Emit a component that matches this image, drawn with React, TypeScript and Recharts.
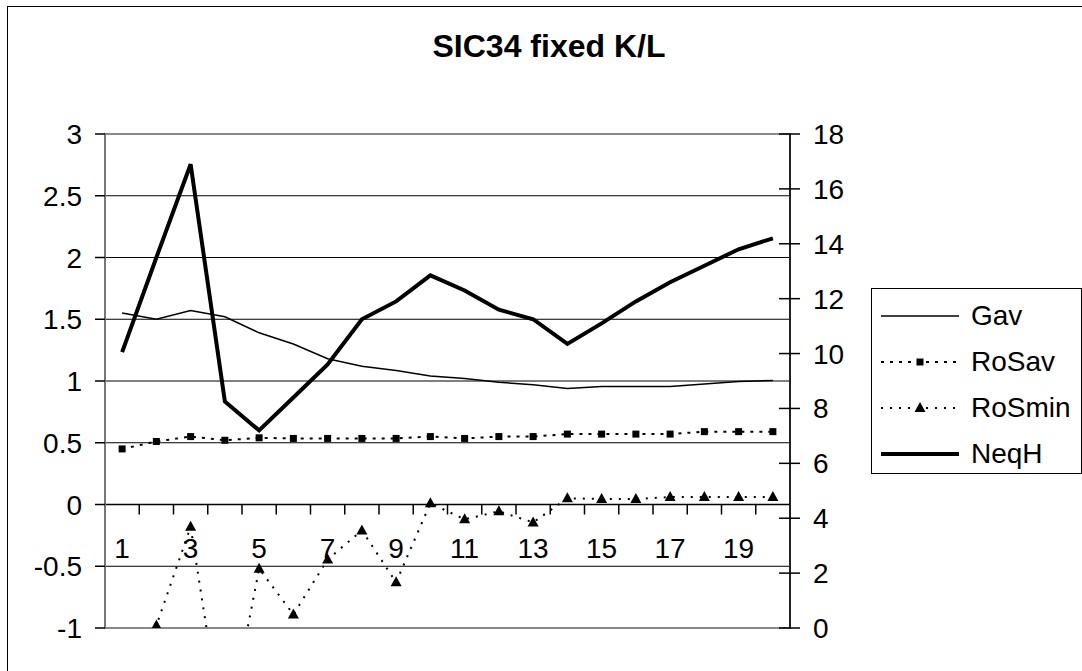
import React from 'react';
import {
  LineChart,
  Line,
  XAxis,
  YAxis,
  CartesianGrid,
  Legend,
  ReferenceLine,
  ReferenceArea,
} from 'recharts';

// values
const categories = [1, 2, 3, 4, 5, 6, 7, 8, 9, 10, 11, 12, 13, 14, 15, 16, 17, 18, 19, 20];
const gav = [1.55, 1.5, 1.57, 1.52, 1.39, 1.3, 1.18, 1.12, 1.085, 1.04, 1.02, 0.99, 0.97, 0.94, 0.955, 0.955, 0.955, 0.975, 0.995, 1.005];
const roSav = [0.45, 0.51, 0.55, 0.52, 0.54, 0.535, 0.535, 0.535, 0.535, 0.55, 0.535, 0.55, 0.55, 0.57, 0.57, 0.57, 0.57, 0.59, 0.59, 0.59];
const roSmin = [-1.6, -0.98, -0.18, -1.95, -0.52, -0.89, -0.445, -0.21, -0.63, 0.01, -0.12, -0.055, -0.145, 0.05, 0.045, 0.045, 0.06, 0.06, 0.06, 0.06];
const neqH = [10.05, 13.5, 16.9, 8.25, 7.2, 8.4, 9.6, 11.25, 11.9, 12.85, 12.3, 11.6, 11.25, 10.35, 11.1, 11.9, 12.6, 13.2, 13.8, 14.2];

const leftTicks = [-1, -0.5, 0, 0.5, 1, 1.5, 2, 2.5, 3];
const rightTicks = [0, 2, 4, 6, 8, 10, 12, 14, 16, 18];
const xLabels = [1, 3, 5, 7, 9, 11, 13, 15, 17, 19];
const seriesNames = ['Gav', 'RoSav', 'RoSmin', 'NeqH'];

const data = categories.map((c, i) => ({
  x: c,
  Gav: gav[i],
  RoSav: roSav[i],
  RoSmin: roSmin[i],
  NeqH: neqH[i],
}));

// labels at the categories, small marks between them
const xTicks = categories.flatMap((c, i) => (i < categories.length - 1 ? [c, c + 0.5] : [c]));

const W = 1082;
const H = 671;
const MARGIN = { top: 134, right: 192, bottom: 0, left: 8 };
const X_AXIS_H = 43;
const LEFT_DOMAIN: [number, number] = [-1, 3];
const PLOT_H = H - MARGIN.top - MARGIN.bottom - X_AXIS_H;
// category axis crosses the value axis at 0
const ZERO_SHIFT = (PLOT_H * (0 - LEFT_DOMAIN[0])) / (LEFT_DOMAIN[1] - LEFT_DOMAIN[0]);

const FONT = '"Liberation Sans", Arial, sans-serif';

const XTick = (props: any) => {
  const { x, y, payload } = props;
  const v = payload.value;
  const y0 = y - ZERO_SHIFT;
  if (!Number.isInteger(v)) {
    return <line x1={x} x2={x} y1={y0} y2={y0 + 10} stroke="#000" strokeWidth={1.5} />;
  }
  if (!xLabels.includes(v)) return <g />;
  return (
    <text x={x} y={y0 + 53} textAnchor="middle" fontSize={28} fontFamily={FONT} fill="#000">
      {v}
    </text>
  );
};

const LeftTick = (props: any) => {
  const { x, y, payload } = props;
  return (
    <g>
      <line x1={x - 10} x2={x} y1={y} y2={y} stroke="#000" strokeWidth={1.5} />
      <text x={x - 23} y={y + 10} textAnchor="end" fontSize={28} fontFamily={FONT} fill="#000">
        {payload.value}
      </text>
    </g>
  );
};

const RightTick = (props: any) => {
  const { x, y, payload } = props;
  return (
    <g>
      <line x1={x - 11} x2={x + 10} y1={y} y2={y} stroke="#000" strokeWidth={1.5} />
      <text x={x + 23} y={y + 10} textAnchor="start" fontSize={28} fontFamily={FONT} fill="#000">
        {payload.value}
      </text>
    </g>
  );
};

const squareDot = (props: any) => {
  const { cx, cy, index } = props;
  return <rect key={`sq-${index}`} x={cx - 3.5} y={cy - 3.5} width={7} height={7} fill="#000" />;
};

const triangleDot = (props: any) => {
  const { cx, cy, index } = props;
  return (
    <polygon
      key={`tr-${index}`}
      points={`${cx},${cy - 6} ${cx + 5.5},${cy + 4} ${cx - 5.5},${cy + 4}`}
      fill="#000"
    />
  );
};

const sample = (name: string) => {
  if (name === 'Gav') return <line x1={0} x2={78} y1={10} y2={10} stroke="#000" strokeWidth={1.5} />;
  if (name === 'NeqH') return <line x1={0} x2={78} y1={10} y2={10} stroke="#000" strokeWidth={4} />;
  const square = name === 'RoSav';
  return (
    <g>
      <line x1={0} x2={78} y1={10} y2={10} stroke="#000" strokeWidth={2} strokeDasharray={square ? '3 6' : '2 7'} />
      {square ? (
        <rect x={35.5} y={6.5} width={7} height={7} fill="#000" />
      ) : (
        <polygon points="39,4 44.5,14 33.5,14" fill="#000" />
      )}
    </g>
  );
};

const renderLegend = () => (
  <div
    style={{
      width: 211,
      height: 186,
      boxSizing: 'border-box',
      border: '1.5px solid #000',
      background: '#fff',
      paddingTop: 4,
      fontFamily: FONT,
      fontSize: 28,
    }}
  >
    {seriesNames.map((name) => (
      <div key={name} style={{ display: 'flex', alignItems: 'center', height: 46, paddingLeft: 9 }}>
        <svg width={78} height={20}>{sample(name)}</svg>
        <span style={{ marginLeft: 12, lineHeight: '46px' }}>{name}</span>
      </div>
    ))}
  </div>
);

export default function App() {
  return (
    <div
      style={{
        position: 'absolute',
        left: 0,
        top: 0,
        width: W,
        height: H,
        overflow: 'hidden',
        background: '#fff',
        fontFamily: FONT,
      }}
    >
      <div
        style={{
          position: 'absolute',
          left: 7,
          top: 6,
          width: W + 20,
          height: H + 20,
          borderLeft: '1.5px solid #000',
          borderTop: '1.5px solid #000',
        }}
      />
      <div
        style={{
          position: 'absolute',
          left: 0,
          top: 26,
          width: 1098,
          textAlign: 'center',
          fontSize: 32,
          fontWeight: 'bold',
          lineHeight: '40px',
        }}
      >
        SIC34 fixed K/L
      </div>
      <div style={{ position: 'absolute', left: 0, top: 0 }}>
        <LineChart width={W} height={H} data={data} margin={MARGIN}>
          <XAxis
            dataKey="x"
            type="number"
            domain={[0.5, 20.5]}
            ticks={xTicks}
            interval={0}
            height={X_AXIS_H}
            axisLine={false}
            tickLine={false}
            tickSize={0}
            tickMargin={0}
            tick={XTick}
          />
          <YAxis
            yAxisId="left"
            domain={LEFT_DOMAIN}
            ticks={leftTicks}
            interval={0}
            allowDataOverflow
            width={97}
            tickSize={0}
            tickMargin={0}
            tickLine={false}
            axisLine={{ stroke: '#777', strokeWidth: 2 }}
            tick={LeftTick}
          />
          <YAxis
            yAxisId="right"
            orientation="right"
            domain={[0, 18]}
            ticks={rightTicks}
            interval={0}
            allowDataOverflow
            width={100}
            tickSize={0}
            tickMargin={0}
            tickLine={false}
            axisLine={{ stroke: '#000', strokeWidth: 1.5 }}
            tick={RightTick}
          />
          <CartesianGrid yAxisId="left" vertical={false} stroke="#000" strokeWidth={1} />
          <ReferenceArea
            yAxisId="left"
            x1={0.5}
            x2={20.5}
            y1={-1}
            y2={3}
            fill="none"
            stroke="#888"
            strokeWidth={2}
            ifOverflow="visible"
          />
          <ReferenceLine yAxisId="left" y={0} stroke="#000" strokeWidth={1.5} />
          <Legend
            content={renderLegend}
            layout="horizontal"
            verticalAlign="middle"
            align="center"
            wrapperStyle={{ left: 871, top: 288, width: 211 }}
          />
          <Line
            yAxisId="left"
            dataKey="Gav"
            stroke="#000"
            strokeWidth={1.5}
            dot={false}
            isAnimationActive={false}
          />
          <Line
            yAxisId="left"
            dataKey="RoSav"
            stroke="#000"
            strokeWidth={2}
            strokeDasharray="3 6"
            dot={squareDot}
            isAnimationActive={false}
          />
          <Line
            yAxisId="left"
            dataKey="RoSmin"
            stroke="#000"
            strokeWidth={2}
            strokeDasharray="2 7"
            dot={triangleDot}
            isAnimationActive={false}
          />
          <Line
            yAxisId="right"
            dataKey="NeqH"
            stroke="#000"
            strokeWidth={4}
            dot={false}
            isAnimationActive={false}
          />
        </LineChart>
      </div>
    </div>
  );
}
